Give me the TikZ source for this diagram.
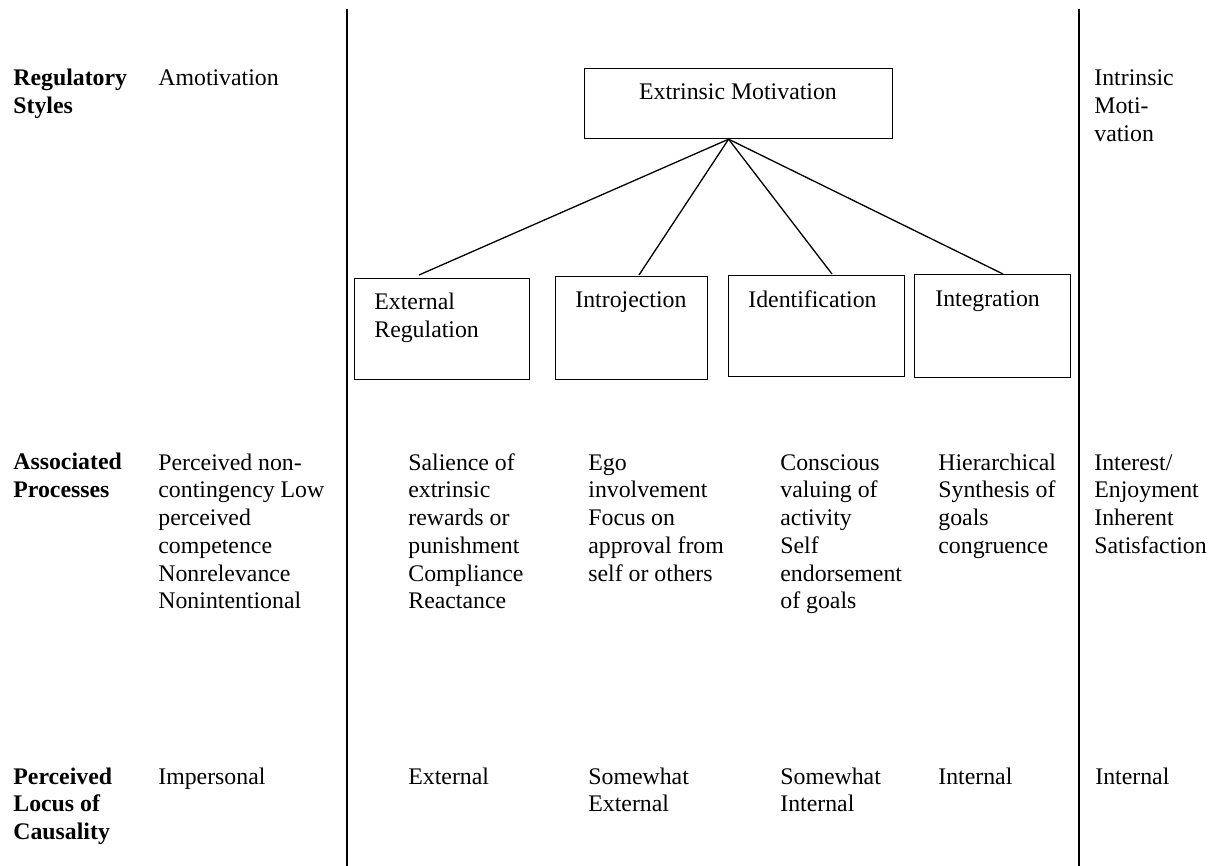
\documentclass[tikz,border=0pt]{standalone}
\usepackage{fontspec}
\setmainfont{Liberation Serif}
\usetikzlibrary{calc}
\begin{document}
\begin{tikzpicture}[x=0.5pt,y=-0.5pt,
  every node/.style={font=\fontsize{11.9}{13.9}\selectfont},
  txt/.style={anchor=base west, inner sep=0pt, align=left},
  hdr/.style={txt, font=\fontsize{11.9}{13.9}\selectfont\bfseries},
  box/.style={draw, line width=0.6pt, anchor=north west, inner sep=0pt},
  sep/.style={line width=1pt},
  conn/.style={line width=0.65pt}]
\useasboundingbox (0,0) rectangle (1217,866);
% separators
\coordinate (s1t) at (347,9);
\coordinate (s1b) at (347,866);
\coordinate (s2t) at (1079,9);
\coordinate (s2b) at (1079,866);
\draw[sep] (s1t) -- (s1b);
\draw[sep] (s2t) -- (s2b);
% row headers (anchored at baseline of last line)
\node[hdr] (h1) at (13,113.8) {Regulatory\\Styles};
\node[hdr] (h2) at (13,497.8) {Associated\\Processes};
\node[hdr] (h3) at (13,839.6) {Perceived\\Locus of\\Causality};
% row 1
\node[txt] (amot) at (158,86) {Amotivation};
\node[txt] (intr) at (1094,141.6) {Intrinsic\\Moti-\\vation};
% boxes
\node[box, minimum width=154pt, minimum height=35pt] (em) at (584,68) {};
\node[anchor=base, inner sep=0pt] (emt) at (738,100) {Extrinsic Motivation};
\node[box, minimum width=87.5pt, minimum height=50.5pt] (ext) at (354,278) {};
\node[box, minimum width=76pt, minimum height=51.5pt] (itj) at (555,276) {};
\node[box, minimum width=88pt, minimum height=50.5pt] (idf) at (728,275) {};
\node[box, minimum width=78pt, minimum height=51.5pt] (itg) at (914,274) {};
\node[txt] (extt) at (374,337.8) {External\\Regulation};
\node[txt] (itjt) at (575,308) {Introjection};
\node[txt] (idft) at (748,308) {Identification};
\node[txt] (itgt) at (935,307) {Integration};
% connectors
\coordinate (apex) at ($(em.south)+(-10,0)$);
\draw[conn] (apex) -- ($(ext.north west)+(65,-3)$);
\draw[conn] (apex) -- ($(itj.north west)+(84,-1)$);
\draw[conn] (apex) -- ($(idf.north west)+(104,-1)$);
\draw[conn] (apex) -- ($(itg.north west)+(89,0)$);
% row 2
\node[txt] (p1) at (158,609) {Perceived non-\\contingency Low\\perceived\\competence\\Nonrelevance\\Nonintentional};
\node[txt] (p2) at (408,609) {Salience of\\extrinsic\\rewards or\\punishment\\Compliance\\Reactance};
\node[txt] (p3) at (588,581.2) {Ego\\involvement\\Focus on\\approval from\\self or others};
\node[txt] (p4) at (780,609) {Conscious\\valuing of\\activity\\Self\\endorsement\\of goals};
\node[txt] (p5) at (938,553.4) {Hierarchical\\Synthesis of\\goals\\congruence};
\node[txt] (p6) at (1094,553.4) {Interest/\\Enjoyment\\Inherent\\Satisfaction};
% row 3
\node[txt] (c1) at (158,784) {Impersonal};
\node[txt] (c2) at (408,784) {External};
\node[txt] (c3) at (588,811.8) {Somewhat\\External};
\node[txt] (c4) at (780,811.8) {Somewhat\\Internal};
\node[txt] (c5) at (938,784) {Internal};
\node[txt] (c6) at (1095,784) {Internal};
\end{tikzpicture}
\end{document}
